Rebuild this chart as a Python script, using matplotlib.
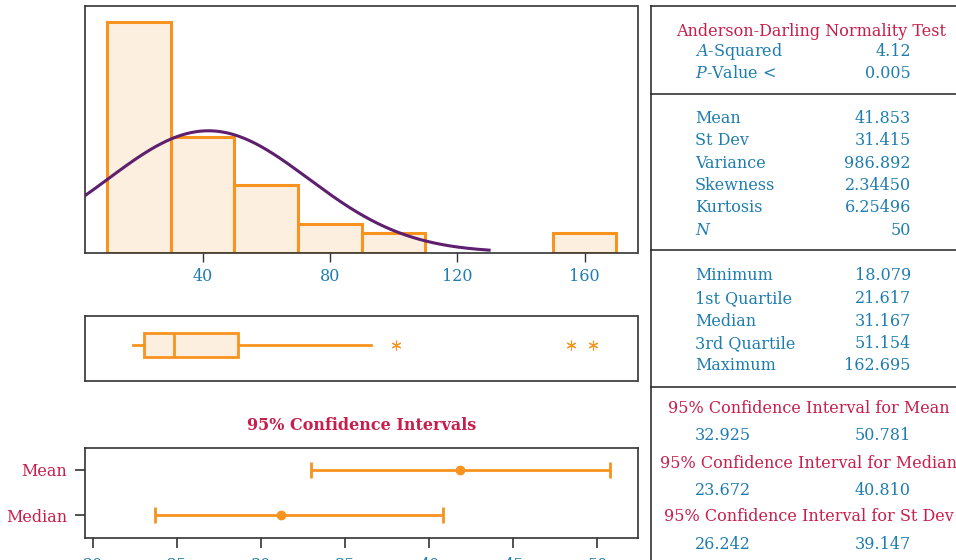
import numpy as np
import matplotlib
matplotlib.use("Agg")
import matplotlib.pyplot as plt

# histogram bins (left edge, width 20) and counts
bin_left = [10, 30, 50, 70, 90, 150]
bin_count = [24, 12, 7, 3, 2, 2]
bin_width = 20

# summary stats
n_obs = 50
mean_val = 41.853
sd_val = 31.415
box_min = 18.079
box_q1 = 21.617
box_med = 31.167
box_q3 = 51.154
whisker_hi = 92.8
outliers = [100.8, 155.7, 162.695]

# confidence intervals
ci_names = ["Mean", "Median"]
ci_center = [41.853, 31.167]
ci_low = [32.925, 23.672]
ci_high = [50.781, 40.810]
ci_ticks = [20, 25, 30, 35, 40, 45, 50]

# right-hand summary table
ad_rows = [("$\\mathit{A}$-Squared", "4.12"), ("$\\mathit{P}$-Value <", "0.005")]
moment_rows = [("Mean", "41.853"), ("St Dev", "31.415"), ("Variance", "986.892"),
               ("Skewness", "2.34450"), ("Kurtosis", "6.25496"), ("$\\mathit{N}$", "50")]
quart_rows = [("Minimum", "18.079"), ("1st Quartile", "21.617"), ("Median", "31.167"),
              ("3rd Quartile", "51.154"), ("Maximum", "162.695")]
ci_rows = [("95% Confidence Interval for Mean", "32.925", "50.781"),
           ("95% Confidence Interval for Median", "23.672", "40.810"),
           ("95% Confidence Interval for St Dev", "26.242", "39.147")]

ORANGE = "#F7931E"
FILL = "#FDEFDF"
PURPLE = "#5E1F6E"
CRIMSON = "#C81E4B"
BLUE = "#1F7DB0"
DARK = "#333333"

plt.rcParams["font.family"] = ["DejaVu Serif"]
plt.rcParams["mathtext.fontset"] = "custom"
plt.rcParams["mathtext.rm"] = "DejaVu Serif"
plt.rcParams["mathtext.it"] = "DejaVu Serif:italic"

W, H = 956, 560
fig = plt.figure(figsize=(W / 100, H / 100), dpi=100)


def px_axes(left, top, right, bottom):
    return fig.add_axes([left / W, 1 - bottom / H, (right - left) / W, (bottom - top) / H])


def style_spines(ax):
    for s in ax.spines.values():
        s.set_color(DARK)
        s.set_linewidth(1.2)


# histogram with normal curve
ax_h = px_axes(85, 5.7, 637.5, 252.5)
ax_h.bar(bin_left, bin_count, width=bin_width, align="edge", color=FILL,
         edgecolor=ORANGE, linewidth=2.2, zorder=2)
xs = np.linspace(3.1, 130, 300)
ys = n_obs * bin_width * np.exp(-0.5 * ((xs - mean_val) / sd_val) ** 2) / (sd_val * np.sqrt(2 * np.pi))
ax_h.plot(xs, ys, color=PURPLE, lw=2.2, zorder=3)
ax_h.set_xlim(3.1, 176.6)
ax_h.set_ylim(0, 25.75)
ax_h.set_yticks([])
ax_h.set_xticks([40, 80, 120, 160])
ax_h.tick_params(axis="x", length=6.5, width=1, color=DARK, labelcolor=BLUE, labelsize=11.5, pad=5)
style_spines(ax_h)

# boxplot
ax_b = px_axes(85, 316, 637.5, 381)
stats = [dict(med=box_med, q1=box_q1, q3=box_q3, whislo=box_min, whishi=whisker_hi,
              fliers=outliers)]
ax_b.bxp(stats, positions=[0.55], widths=0.37, orientation="horizontal", patch_artist=True,
         showcaps=False,
         boxprops=dict(facecolor=FILL, edgecolor=ORANGE, linewidth=2),
         medianprops=dict(color=ORANGE, linewidth=2),
         whiskerprops=dict(color=ORANGE, linewidth=2),
         flierprops=dict(marker=(6, 2, 0), markersize=7, markeredgecolor=ORANGE,
                         markeredgewidth=0.8))
ax_b.set_xlim(3.1, 176.6)
ax_b.set_ylim(0, 1)
ax_b.set_xticks([])
ax_b.set_yticks([])
style_spines(ax_b)

# confidence interval panel
ax_c = px_axes(85, 447.5, 638, 537.5)
ypos = [1, 0]
for y, c, lo, hi in zip(ypos, ci_center, ci_low, ci_high):
    ax_c.errorbar([c], [y], xerr=[[c - lo], [hi - c]], fmt="o", color=ORANGE,
                  ms=6, elinewidth=2, capsize=6, capthick=2)
ax_c.set_xlim(19.5, 52.42)
ax_c.set_ylim(-0.5, 1.5)
ax_c.set_yticks(ypos)
ax_c.set_yticklabels(ci_names)
ax_c.set_xticks(ci_ticks)
ax_c.tick_params(axis="both", length=7, width=1.2, color=DARK, labelsize=11.5)
ax_c.tick_params(axis="y", labelcolor=CRIMSON, pad=6)
ax_c.tick_params(axis="x", labelcolor=BLUE, pad=7)
style_spines(ax_c)
fig.text(361.5 / W, 1 - 426 / H, "95% Confidence Intervals", color=CRIMSON,
         fontsize=11.5, fontweight="bold", ha="center", va="center")

# right panel as text on a pixel overlay
ov = fig.add_axes([0, 0, 1, 1], zorder=-1)
ov.set_xlim(0, W)
ov.set_ylim(H, 0)
ov.axis("off")
ov.plot([650.7, 650.7], [5.7, H], color="#222222", lw=1.1)
for yy in [5.7, 94.3, 250, 386.7]:
    ov.plot([650.7, W], [yy, yy], color="#222222", lw=1.1)

fs = 11.5
lab_x, val_x = 695, 911
ov.text(676, 31, "Anderson-Darling Normality Test", color=CRIMSON, fontsize=fs, va="center")
for (lab, val), yy in zip(ad_rows, [51.7, 74]):
    ov.text(lab_x, yy, lab, color=BLUE, fontsize=fs, va="center")
    ov.text(val_x, yy, val, color=BLUE, fontsize=fs, va="center", ha="right")
for (lab, val), yy in zip(moment_rows, [118.3, 140.3, 163.3, 185.7, 208, 230.5]):
    ov.text(lab_x, yy, lab, color=BLUE, fontsize=fs, va="center")
    ov.text(val_x, yy, val, color=BLUE, fontsize=fs, va="center", ha="right")
for (lab, val), yy in zip(quart_rows, [276, 298.3, 321, 343.3, 366]):
    ov.text(lab_x, yy, lab, color=BLUE, fontsize=fs, va="center")
    ov.text(val_x, yy, val, color=BLUE, fontsize=fs, va="center", ha="right")
for (head, lo, hi), yy in zip(ci_rows, [408.3, 463.3, 516.7]):
    ov.text(809, yy, head, color=CRIMSON, fontsize=fs, va="center", ha="center")
    ov.text(lab_x, yy + 27.5, lo, color=BLUE, fontsize=fs, va="center")
    ov.text(val_x, yy + 27.5, hi, color=BLUE, fontsize=fs, va="center", ha="right")

fig.savefig("out.png", dpi=100)
